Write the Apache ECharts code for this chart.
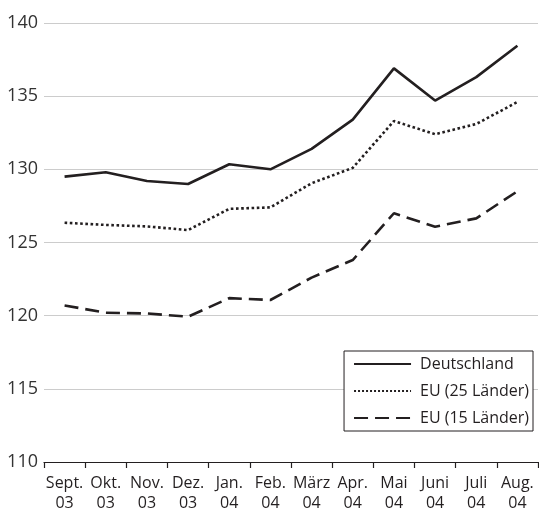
<!DOCTYPE html>
<html><head><meta charset="utf-8">
<script src="https://cdn.jsdelivr.net/npm/echarts@6/dist/echarts.min.js"></script>
<style>html,body{margin:0;padding:0;background:#fff}#c{width:539px;height:508px}</style>
</head><body><div id="c"></div>
<script>
const categories = ['Sept.\n03','Okt.\n03','Nov.\n03','Dez.\n03','Jan.\n04','Feb.\n04','März\n04','Apr.\n04','Mai\n04','Juni\n04','Juli\n04','Aug.\n04'];
const deutschland = [129.5,129.8,129.2,129.0,130.35,130.0,131.4,133.4,136.9,134.7,136.3,138.45];
const eu25 = [126.35,126.2,126.1,125.85,127.3,127.4,129.05,130.1,133.3,132.4,133.1,134.6];
const eu15 = [120.7,120.2,120.15,119.93,121.2,121.07,122.6,123.8,127.0,126.08,126.65,128.5];
const yTicks = [110,115,120,125,130,135,140];
const FONT = '"Open Sans", "Noto Sans", sans-serif';
const ink = '#231f20';
const chart = echarts.init(document.getElementById('c'), null, {renderer:'canvas'});
const mk = (name, data, type) => ({
  name, type:'line', data, symbol:'none', showSymbol:false, animation:false,
  lineStyle:{color:ink, width:2.6, type}, itemStyle:{color:ink}
});
chart.setOption({
  animation:false,
  backgroundColor:'#fff',
  grid:{left:44, right:1, top:23, bottom:46, containLabel:false, outerBoundsMode:'none'},
  xAxis:{type:'category', data:categories, boundaryGap:true,
    axisLine:{lineStyle:{color:ink, width:1.2}},
    axisTick:{show:true, length:6, alignWithLabel:false, lineStyle:{color:ink, width:1.2}},
    axisLabel:{color:ink, fontFamily:FONT, fontSize:16, lineHeight:20, margin:11, interval:0},
    splitLine:{show:false}},
  yAxis:{type:'value', min:yTicks[0], max:yTicks[yTicks.length-1], interval:5,
    axisLine:{show:false}, axisTick:{show:false},
    axisLabel:{color:'#333', fontFamily:FONT, fontSize:18, margin:6},
    splitLine:{lineStyle:{color:'#cccccc', width:1}}},
  legend:{orient:'vertical', right:6, top:351, backgroundColor:'#fff', borderColor:ink, borderWidth:1,
    padding:[5,4,5,9], itemWidth:57, itemHeight:14, itemGap:11,
    itemStyle:{opacity:0},
    textStyle:{color:ink, fontFamily:FONT, fontSize:16, padding:[0,0,0,4]},
    data:['Deutschland','EU (25 Länder)','EU (15 Länder)']},
  series:[mk('Deutschland', deutschland, 'solid'), mk('EU (25 Länder)', eu25, 'dotted'), mk('EU (15 Länder)', eu15, [14,7])]
});
</script></body></html>
